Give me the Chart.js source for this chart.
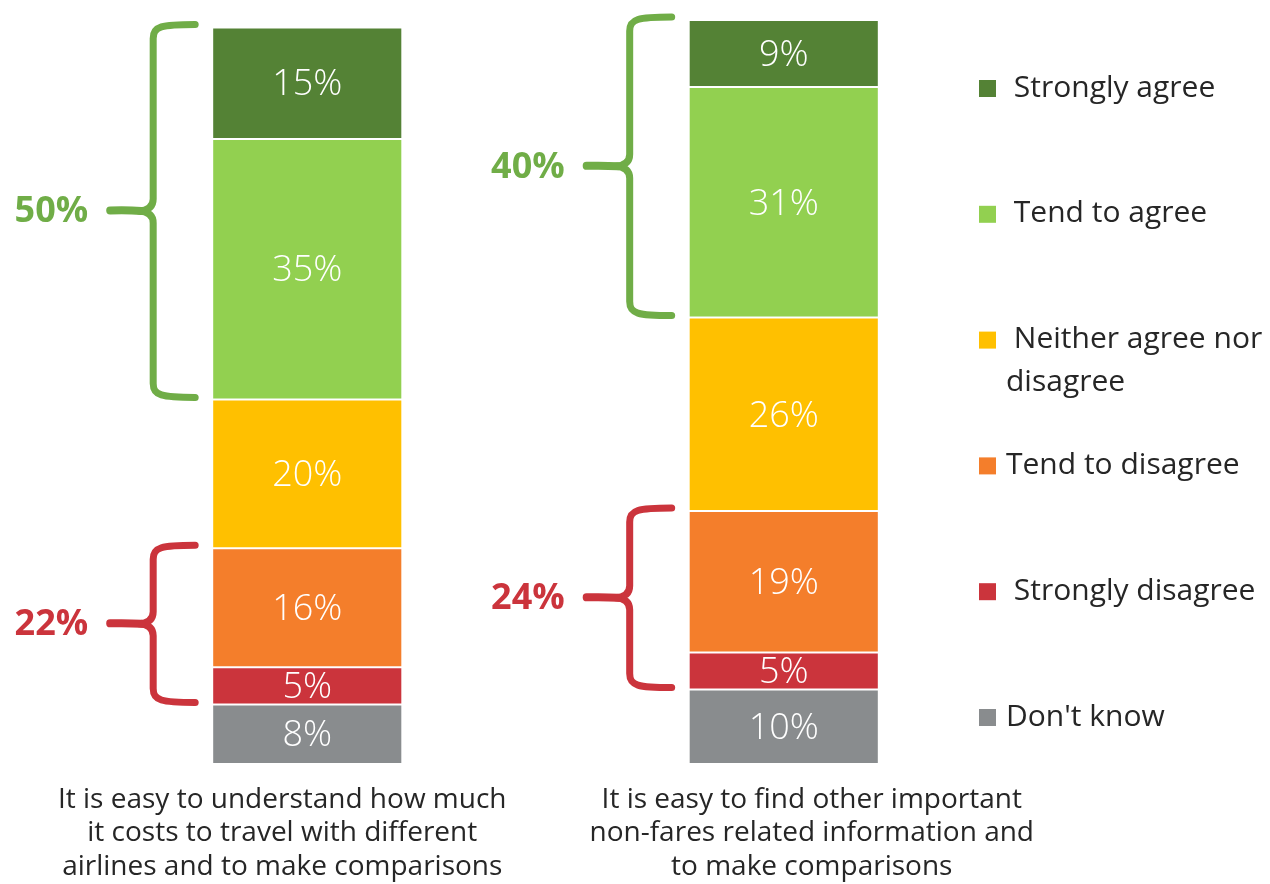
<!DOCTYPE html>
<html>
<head>
<meta charset="utf-8">
<script src="https://cdn.jsdelivr.net/npm/chart.js@4.4.1/dist/chart.umd.min.js"></script>
<style>
  html, body { margin: 0; padding: 0; background: #fff; }
  #wrap { width: 1270px; height: 884px; }
</style>
</head>
<body>
<div id="wrap"><canvas id="chart" width="1270" height="884"></canvas></div>
<script>
// survey statements (x categories), one label line per array entry
const statements = [
  ['It is easy to understand how much', 'it costs to travel with different', 'airlines and to make comparisons'],
  ['It is easy to find other important', 'non-fares related information and', 'to make comparisons']
];

// answer options, bottom of the stack first
const answers = ["Don't know", ' Strongly disagree', 'Tend to disagree', ' Neither agree nor\ndisagree', ' Tend to agree', ' Strongly agree'];
const answerColors = ['#898C8E', '#CB343C', '#F47E2B', '#FFC000', '#92D050', '#548235'];

// share of respondents (%) per statement
const dontKnow         = [8, 10];
const stronglyDisagree = [5, 5];
const tendToDisagree   = [16, 19];
const neither          = [20, 26];
const tendToAgree      = [35, 31];
const stronglyAgree    = [15, 9];

// net totals printed beside the braces
const agreeTotals    = [50, 40];
const disagreeTotals = [22, 24];

const seriesValues = [dontKnow, stronglyDisagree, tendToDisagree, neither, tendToAgree, stronglyAgree];

const FONT = '"Open Sans", "Noto Sans", sans-serif';
const TEXT = '#262626';

// white % labels in the middle of each segment
const segmentLabels = {
  id: 'segmentLabels',
  afterDatasetsDraw(chart) {
    const ctx = chart.ctx;
    ctx.save();
    ctx.fillStyle = '#fff';
    ctx.font = '300 36px ' + FONT;
    ctx.textAlign = 'center';
    ctx.textBaseline = 'middle';
    chart.data.datasets.forEach((ds, i) => {
      chart.getDatasetMeta(i).data.forEach((bar, j) => {
        const yMid = (bar.y + bar.base) / 2;
        ctx.fillText(ds.data[j] + '%', bar.x, yMid + 2);
      });
    });
    ctx.restore();
  }
};

function drawBrace(ctx, xEnd, yTop, yBot, color) {
  const spine = xEnd - 42;
  const tip = xEnd - 85;
  const mid = (yTop + yBot) / 2;
  ctx.save();
  ctx.strokeStyle = color;
  ctx.lineWidth = 7;
  ctx.lineCap = 'round';
  ctx.lineJoin = 'round';
  ctx.beginPath();
  ctx.moveTo(xEnd, yTop);
  ctx.bezierCurveTo(spine + 8, yTop, spine, yTop + 2, spine, yTop + 14);
  ctx.lineTo(spine, mid - 12);
  ctx.quadraticCurveTo(spine, mid - 1, spine - 14, mid);
  ctx.quadraticCurveTo(spine, mid + 1, spine, mid + 12);
  ctx.lineTo(spine, yBot - 14);
  ctx.bezierCurveTo(spine, yBot - 2, spine + 8, yBot, xEnd, yBot);
  ctx.stroke();
  // stem out to the left, slightly heavier at its end
  ctx.beginPath();
  ctx.moveTo(spine - 12, mid);
  ctx.quadraticCurveTo(spine - 25, mid - 1, tip, mid - 0.5);
  ctx.lineWidth = 8;
  ctx.stroke();
  ctx.restore();
  return { tip, mid };
}

// curly braces grouping agree / disagree segments, with net totals
const netBraces = {
  id: 'netBraces',
  afterDatasetsDraw(chart) {
    const ctx = chart.ctx;
    const metas = chart.data.datasets.map((_, i) => chart.getDatasetMeta(i));
    const groups = [
      { from: 4, to: 5, totals: agreeTotals, color: '#70AD47' },
      { from: 1, to: 2, totals: disagreeTotals, color: '#CB343C' }
    ];
    statements.forEach((_, j) => {
      const top = metas[5].data[j];
      const left = top.x - top.width / 2;
      groups.forEach(g => {
        const upper = metas[g.to].data[j];
        const lower = metas[g.from].data[j];
        const b = drawBrace(ctx, left - 17, upper.y - 3, lower.base - 2, g.color);
        ctx.save();
        ctx.fillStyle = g.color;
        ctx.font = 'bold 36px ' + FONT;
        ctx.textAlign = 'right';
        ctx.textBaseline = 'middle';
        ctx.fillText(g.totals[j] + '%', b.tip - 22, b.mid + 1);
        ctx.restore();
      });
    });
  }
};

// statement text under each bar
const statementLabels = {
  id: 'statementLabels',
  afterDraw(chart) {
    const ctx = chart.ctx;
    const x = chart.scales.x;
    const shift = [-25, 28];
    ctx.save();
    ctx.fillStyle = TEXT;
    ctx.font = '28px ' + FONT;
    ctx.textAlign = 'center';
    ctx.textBaseline = 'middle';
    statements.forEach((lines, j) => {
      const cx = x.getPixelForValue(j) + shift[j];
      lines.forEach((line, k) => ctx.fillText(line, cx, chart.chartArea.bottom + 36 + k * 33.5));
    });
    ctx.restore();
  }
};

// legend column on the right, top answer first
const sideLegend = {
  id: 'sideLegend',
  afterDraw(chart) {
    const ctx = chart.ctx;
    const items = chart.data.datasets.slice().reverse();
    ctx.save();
    ctx.font = '30px ' + FONT;
    ctx.textBaseline = 'middle';
    ctx.textAlign = 'left';
    items.forEach((ds, i) => {
      const y = 88 + i * 125.8;
      ctx.fillStyle = ds.backgroundColor;
      ctx.fillRect(979, y - 8, 17, 17);
      ctx.fillStyle = TEXT;
      ds.label.split('\n').forEach((line, k) => ctx.fillText(line, 1006, y + k * 43));
    });
    ctx.restore();
  }
};

new Chart(document.getElementById('chart'), {
  type: 'bar',
  data: {
    labels: statements,
    datasets: answers.map((name, i) => ({
      label: name,
      data: seriesValues[i],
      backgroundColor: answerColors[i],
      borderColor: '#fff',
      borderWidth: 1,
      borderSkipped: false,
      categoryPercentage: 1,
      barPercentage: 0.399
    }))
  },
  options: {
    responsive: false,
    animation: false,
    devicePixelRatio: 1,
    layout: { padding: { left: 69, right: 248, top: 20, bottom: 120 } },
    plugins: { legend: { display: false }, tooltip: { enabled: false } },
    scales: {
      x: { stacked: true, display: false },
      y: { stacked: true, display: false, min: 0, max: 100 }
    }
  },
  plugins: [segmentLabels, netBraces, statementLabels, sideLegend]
});
</script>
</body>
</html>
